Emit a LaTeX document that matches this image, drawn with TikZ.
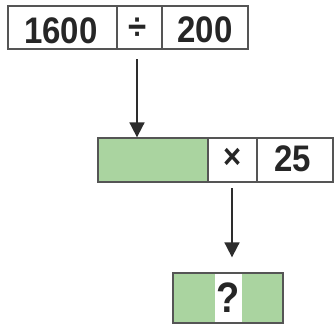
\documentclass[tikz,border=0pt]{standalone}
\usepackage{fontspec}
\setmainfont{Liberation Sans}
\usetikzlibrary{arrows.meta}
\definecolor{cellgreen}{RGB}{170,212,160}
\definecolor{edgegray}{RGB}{85,85,85}
\definecolor{arrowgray}{RGB}{45,45,45}
\newcommand{\tallnum}[2][33]{\scalebox{1}[1.12]{\fontsize{#1}{#1}\selectfont\bfseries #2}}
\begin{document}
\begin{tikzpicture}[x=1pt,y=-1pt,
  cell/.style={draw=edgegray,line width=1.3pt,inner sep=0pt,text=black!85},
  arr/.style={draw=arrowgray,line width=1.8pt,-{Triangle[width=15pt,length=15pt]}}]
\useasboundingbox (0,0) rectangle (335,330);
% top row
\node[cell,minimum width=109pt,minimum height=43pt] (a1) at (62.5,27.5) {};
\node[cell,minimum width=45pt,minimum height=43pt] (a2) at (139.5,27.5) {};
\node[cell,minimum width=86pt,minimum height=43pt] (a3) at (205,27.5) {};
\node[inner sep=0pt,text=black!85] (t1) at (61,31) {\tallnum{1600}};
\node[inner sep=0pt,text=black!85] (t2) at (138,29) {\tallnum{÷}};
\node[inner sep=0pt,text=black!85] (t3) at (205,30) {\tallnum{200}};
% middle row
\node[cell,fill=cellgreen,minimum width=110pt,minimum height=44pt] (b1) at (153,160) {};
\node[cell,minimum width=49pt,minimum height=44pt] (b2) at (232.5,160) {};
\node[cell,minimum width=76pt,minimum height=44pt] (b3) at (295,160) {};
\node[inner sep=0pt,text=black!85] (t4) at (233,158.5) {\tallnum[31]{×}};
\node[inner sep=0pt,text=black!85] (t5) at (293,158.5) {\tallnum{25}};
% bottom
\node[cell,fill=cellgreen,minimum width=110pt,minimum height=50pt] (c) at (228,298) {};
\node[inner sep=0pt,fill=white,minimum width=27pt,minimum height=48.7pt] (q) at (228.5,298) {};
\node[inner sep=0pt,text=black!85] (t6) at (228,297.5) {\tallnum[38]{?}};
% arrows
\coordinate (s1) at (137,59);
\coordinate (s2) at (232,188);
\draw[arr] (s1) -- (s1 |- b1.north);
\draw[arr] (s2) -- ([yshift=15pt]s2 |- c.north);
\end{tikzpicture}
\end{document}
